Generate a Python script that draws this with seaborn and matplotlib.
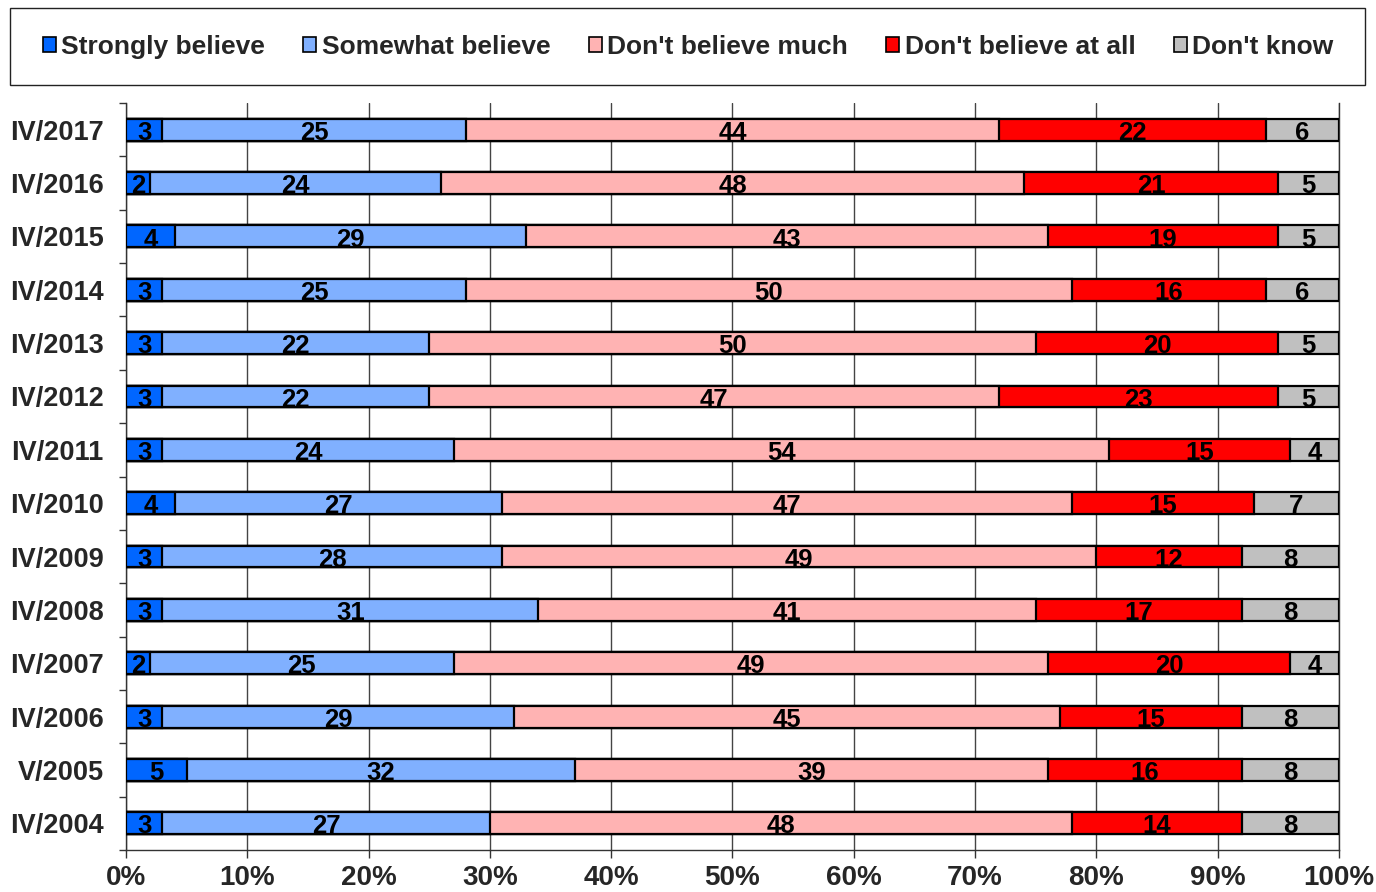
import numpy as np
import pandas as pd
import matplotlib
matplotlib.use('Agg')
import matplotlib.pyplot as plt
from matplotlib.patches import Patch, Rectangle
import seaborn as sns

years = ['IV/2017', 'IV/2016', 'IV/2015', 'IV/2014', 'IV/2013', 'IV/2012', 'IV/2011',
         'IV/2010', 'IV/2009', 'IV/2008', 'IV/2007', 'IV/2006', 'V/2005', 'IV/2004']
strongly = [3, 2, 4, 3, 3, 3, 3, 4, 3, 3, 2, 3, 5, 3]
somewhat = [25, 24, 29, 25, 22, 22, 24, 27, 28, 31, 25, 29, 32, 27]
not_much = [44, 48, 43, 50, 50, 47, 54, 47, 49, 41, 49, 45, 39, 48]
not_at_all = [22, 21, 19, 16, 20, 23, 15, 15, 12, 17, 20, 15, 16, 14]
dont_know = [6, 5, 5, 6, 5, 5, 4, 7, 8, 8, 4, 8, 8, 8]

series = ['Strongly believe', 'Somewhat believe', "Don't believe much",
          "Don't believe at all", "Don't know"]
colors = ['#0066FF', '#80B0FF', '#FFB3B3', '#FF0000', '#C0C0C0']

df = pd.DataFrame({'year': years, series[0]: strongly, series[1]: somewhat,
                   series[2]: not_much, series[3]: not_at_all, series[4]: dont_know})
cum = df[series].cumsum(axis=1)

sns.set_style('white')
plt.rcParams['font.family'] = ['Liberation Sans', 'DejaVu Sans']
plt.rcParams['font.weight'] = 'bold'

fig = plt.figure(figsize=(13.76, 8.92), dpi=100)
ax = fig.add_axes([126/1376, 1 - 850/892, (1339 - 126)/1376, (850 - 103)/892])

# stacked bars: draw cumulative totals from the back
for s, c in reversed(list(zip(series, colors))):
    sns.barplot(x=cum[s], y=df['year'], color=c, saturation=1, width=0.41,
                edgecolor='black', linewidth=1.6, orient='h', ax=ax, zorder=3)

for i in range(len(years)):
    left = 0
    for s in series:
        v = df[s][i]
        ax.text(left + v / 2, i + 0.19, str(v), ha='center', va='baseline',
                fontsize=18.5, fontweight='bold', color='black', zorder=5)
        left += v

ax.set_xlim(0, 100)
ax.set_ylim(len(years) - 0.5, -0.5)
ax.set_xlabel('')
ax.set_ylabel('')
ax.set_xticks(np.arange(0, 101, 10))
ax.set_xticklabels([f'{t}%' for t in range(0, 101, 10)], fontsize=20, fontweight='bold')
ax.set_yticks(range(len(years)))
ax.set_yticklabels(years, fontsize=19.5, fontweight='bold')
ax.set_yticks(np.arange(-0.5, len(years), 1), minor=True)
ax.tick_params(axis='y', which='major', length=0, pad=16)
ax.tick_params(axis='y', which='minor', length=5, width=1, color='#333333', direction='out', left=True)
ax.tick_params(axis='x', length=6, width=1, color='#333333', direction='out', pad=5, bottom=True)
ax.grid(axis='x', color='#444444', linewidth=1, zorder=0)
ax.set_axisbelow(True)
ax.spines['top'].set_visible(False)
for sp in ['left', 'bottom', 'right']:
    ax.spines[sp].set_color('#333333')
    ax.spines[sp].set_linewidth(1)

handles = [Patch(facecolor=c, edgecolor='black', linewidth=1.2) for c in colors]
fig.legend(handles, series, loc='center', bbox_to_anchor=(0.5, 1 - 47/892), ncol=5,
           frameon=False, prop={'weight': 'bold', 'size': 19},
           handlelength=0.5, handleheight=0.5, handletextpad=0.2, columnspacing=1.45)
fig.patches.append(Rectangle((10/1376, 1 - 85/892), 1355/1376, 77/892, transform=fig.transFigure,
                             fill=False, edgecolor='#222222', linewidth=1))

fig.savefig('out.png', dpi=100)
